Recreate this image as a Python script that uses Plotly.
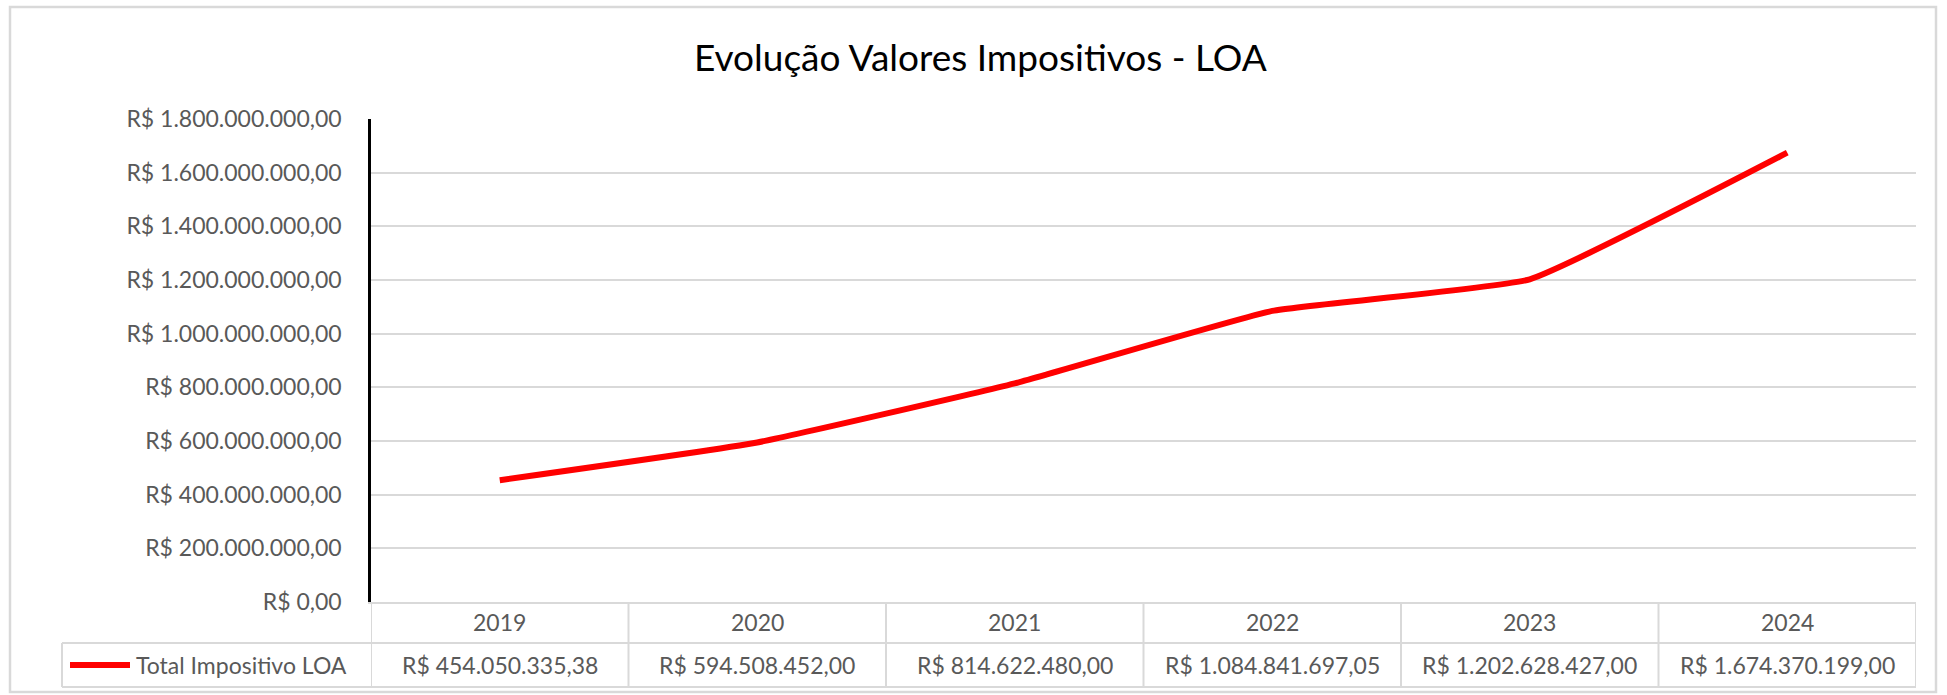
import plotly.graph_objects as go

# ---- data ----
years = ["2019", "2020", "2021", "2022", "2023", "2024"]
total_impositivo = [454050335.38, 594508452.00, 814622480.00, 1084841697.05, 1202628427.00, 1674370199.00]
series_name = "Total Impositivo LOA"
title_text = "Evolução Valores Impositivos - LOA"
y_ticks = [0, 200e6, 400e6, 600e6, 800e6, 1000e6, 1200e6, 1400e6, 1600e6, 1800e6]


def brl(v):
    s = f"{v:,.2f}"
    s = s.replace(",", "#").replace(".", ",").replace("#", ".")
    return "R$ " + s


y_tick_labels = [brl(v) for v in y_ticks]

# ---- layout geometry (pixels) ----
W, H = 1947, 695
PL, PR, PT, PB = 371, 1916, 119, 602


def px(x):
    return (x - PL) / (PR - PL)


def py(y):
    return (PB - y) / (PB - PT)


FONT = "Lato"
GRAY = "#595959"
LINEC = "#d9d9d9"
RED = "#ff0000"
FS = 23

fig = go.Figure()
fig.add_trace(go.Scatter(
    x=years, y=total_impositivo, mode="lines", name=series_name,
    line=dict(color=RED, width=6, shape="spline", smoothing=0.35),
    showlegend=False, hoverinfo="x+y",
))

shapes = []
# outer chart border
shapes.append(dict(type="rect", xref="paper", yref="paper",
                   x0=px(10), x1=px(1936), y0=py(692), y1=py(7),
                   line=dict(color=LINEC, width=2.5), layer="below"))
# data table horizontal lines
shapes.append(dict(type="line", xref="paper", yref="paper", x0=px(62), x1=1,
                   y0=py(643), y1=py(643), line=dict(color=LINEC, width=2)))
shapes.append(dict(type="line", xref="paper", yref="paper", x0=px(62), x1=1,
                   y0=py(687), y1=py(687), line=dict(color=LINEC, width=2)))
# left edge of legend cell
shapes.append(dict(type="line", xref="paper", yref="paper", x0=px(62), x1=px(62),
                   y0=py(643), y1=py(687), line=dict(color=LINEC, width=2)))
# column separators at category boundaries
for i in range(len(years) + 1):
    shapes.append(dict(type="line", xref="x", yref="paper", x0=i - 0.5, x1=i - 0.5,
                       y0=py(602), y1=py(687), line=dict(color=LINEC, width=2)))
# legend key
shapes.append(dict(type="line", xref="paper", yref="paper", x0=px(70), x1=px(130),
                   y0=py(665), y1=py(665), line=dict(color=RED, width=6)))

annotations = []
for i, (yr, v) in enumerate(zip(years, total_impositivo)):
    annotations.append(dict(x=i, xref="x", y=py(622), yref="paper", text=yr,
                            showarrow=False, xanchor="center", yanchor="middle",
                            font=dict(family=FONT, size=FS, color=GRAY)))
    annotations.append(dict(x=i, xref="x", y=py(665), yref="paper", text=brl(v),
                            showarrow=False, xanchor="center", yanchor="middle",
                            font=dict(family=FONT, size=FS, color=GRAY)))
annotations.append(dict(x=px(134), xref="paper", y=py(665), yref="paper", text=series_name,
                        showarrow=False, xanchor="left", yanchor="middle",
                        font=dict(family=FONT, size=FS, color=GRAY)))
annotations.append(dict(x=px(980), xref="paper", y=py(57), yref="paper", text=title_text,
                        showarrow=False, xanchor="center", yanchor="middle",
                        font=dict(family=FONT, size=37, color="#000000")))

fig.update_layout(
    width=W, height=H,
    margin=dict(l=PL, r=W - PR, t=PT, b=H - PB, pad=0),
    paper_bgcolor="white", plot_bgcolor="white",
    shapes=shapes, annotations=annotations,
    xaxis=dict(type="category", range=[-0.5, len(years) - 0.5], showticklabels=False,
               showgrid=False, zeroline=False, showline=True, linecolor=LINEC, linewidth=2,
               fixedrange=True),
    yaxis=dict(range=[0, 1.8e9], tickvals=y_ticks, ticktext=y_tick_labels,
               showgrid=True, gridcolor=LINEC, gridwidth=2, zeroline=False,
               showline=True, linecolor="black", linewidth=2.5,
               ticks="", ticklabelstandoff=22,
               tickfont=dict(family=FONT, size=FS, color=GRAY), fixedrange=True),
    font=dict(family=FONT),
)

fig.write_html("out.html", config={"displayModeBar": False},
               post_script="document.body.style.margin='0';document.body.style.overflow='hidden';")
